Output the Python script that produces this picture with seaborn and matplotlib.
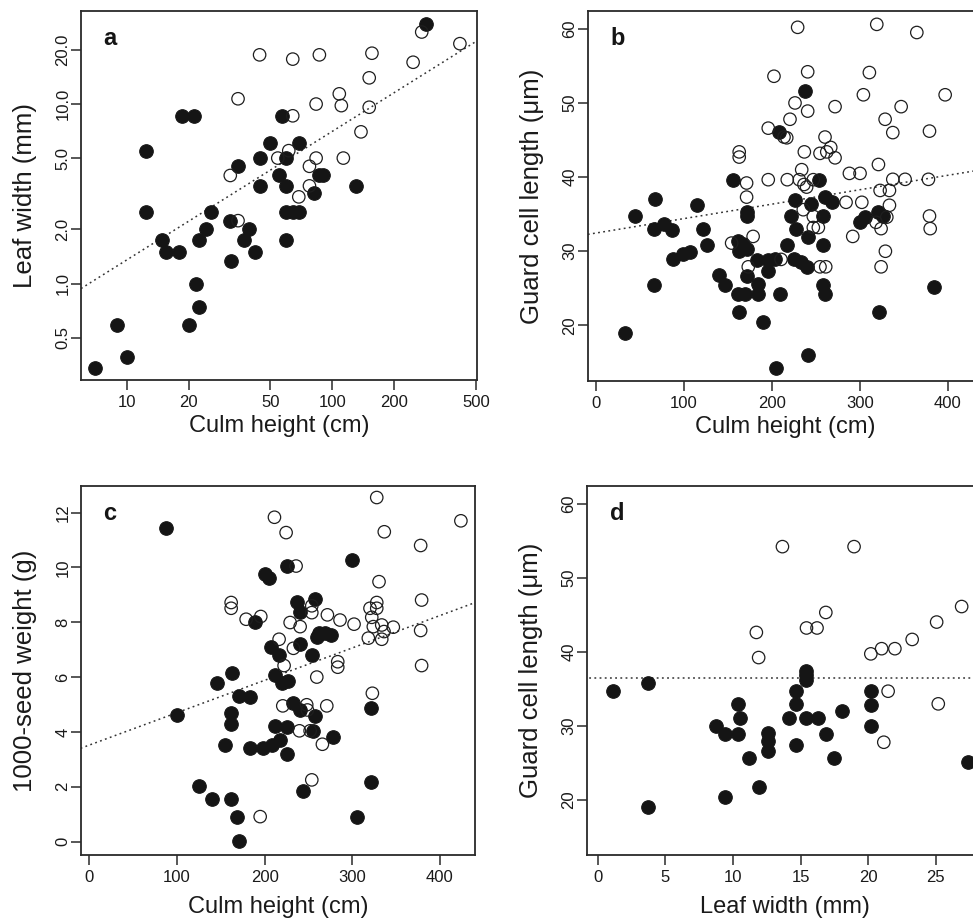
import numpy as np
import pandas as pd
import seaborn as sns
import matplotlib
matplotlib.use("Agg")
import matplotlib.pyplot as plt
from matplotlib.ticker import FixedLocator, FixedFormatter, NullLocator

sns.set_theme(style="ticks")
plt.rcParams["font.family"] = ["Liberation Sans", "DejaVu Sans"]

# ---- panel a: leaf width vs culm height (log-log) ----
a_filled_x = [7.0, 9.0, 10.0, 12.4, 12.4, 14.9, 15.5, 17.9, 18.5, 21.3, 20.0, 21.7, 22.4, 22.4,
              24.2, 25.8, 31.9, 32.0, 34.8, 37.2, 39.3, 41.9, 44.6, 44.6, 49.5, 56.8, 54.9, 59.7,
              59.7, 59.7, 64.2, 69.2, 59.7, 69.2, 81.8, 86.5, 89.7, 130.3, 285]
a_filled_y = [0.34, 0.59, 0.39, 5.5, 2.5, 1.74, 1.49, 1.49, 8.6, 8.6, 0.59, 0.99, 0.74, 1.74,
              2.0, 2.5, 2.24, 1.34, 4.5, 1.74, 2.0, 1.49, 5.0, 3.5, 6.06, 8.6, 4.0, 5.0,
              3.5, 2.5, 2.5, 2.5, 1.74, 6.06, 3.2, 4.0, 4.0, 3.5, 28.0]
a_open_x = [31.9, 34.8, 34.8, 44.3, 54.3, 61.4, 64.2, 64.2, 68.7, 77.4, 77.4, 83.4, 83.4, 86.5,
            108.1, 110.6, 113.1, 137.8, 151.1, 151.1, 155.8, 247, 272, 417]
a_open_y = [4.0, 10.7, 2.24, 18.8, 5.0, 5.5, 17.8, 8.6, 3.04, 4.5, 3.5, 5.0, 10.0, 18.8,
            11.4, 9.8, 5.0, 7.0, 9.6, 14.0, 19.2, 17.1, 25.2, 21.7]

# ---- panel b: guard cell length vs culm height ----
b_filled_x = [33, 44.4, 66, 66, 67.1, 77.4, 86.1, 87.9, 99.3, 106.9, 114.6, 121.4, 126, 140.3,
              146.8, 155.5, 161.9, 167.6, 163, 171.4, 171.4, 171.4, 161.9, 169.5, 163, 171.4,
              182.8, 184, 184, 189.6, 196, 203.6, 196, 204.8, 208.5, 209.3, 217.6, 221.5, 225.3,
              232.9, 239.6, 226.4, 227.5, 237.8, 240.8, 241.5, 244.6, 254, 258.6, 258.6, 257.8,
              260.5, 260.5, 268.1, 300.3, 306, 321.2, 326.9, 322.3, 384.5]
b_filled_y = [19.0, 34.7, 33.05, 25.5, 37.0, 33.7, 32.9, 28.9, 29.6, 29.9, 36.2, 33.05, 30.9, 26.75,
              25.4, 39.65, 31.4, 31.0, 30.0, 30.35, 35.3, 34.8, 24.3, 24.3, 21.8, 26.6,
              28.8, 25.6, 24.3, 20.5, 28.8, 28.9, 27.3, 14.3, 46.1, 24.3, 30.9, 34.7, 28.9,
              28.55, 27.9, 36.95, 33.05, 51.6, 16.0, 31.9, 36.4, 39.6, 34.7, 30.9, 25.5,
              24.3, 37.3, 36.6, 33.9, 34.6, 35.3, 34.8, 21.8, 25.2]
b_open_x = [229.4, 319.3, 364.8, 202.5, 240.8, 310.9, 304.1, 397, 226.4, 240.8, 271.9, 347, 220.7,
            328.8, 337.5, 379.2, 196, 213.9, 217, 260.5, 163, 163, 237, 254.8, 262.5, 267, 271.9,
            321.2, 288.2, 300.3, 196, 217.6, 234, 231.3, 247.2, 236.6, 239.6, 171.4, 171.4,
            337.5, 351.5, 378, 323.1, 333.7, 284.4, 302.3, 333.7, 154.4, 178.8, 173.3, 210.5,
            235.8, 247.2, 247.2, 252.9, 254.8, 261.3, 292, 318.5, 324.2, 330.7, 329.1, 324.2,
            379.2, 380]
b_open_y = [60.2, 60.6, 59.5, 53.6, 54.2, 54.1, 51.1, 51.1, 50.0, 48.9, 49.5, 49.5, 47.8,
            47.8, 46.0, 46.2, 46.6, 45.4, 45.3, 45.4, 43.4, 42.7, 43.4, 43.2, 43.4, 44.0, 42.6,
            41.7, 40.5, 40.5, 39.65, 39.65, 41.0, 39.65, 39.65, 39.0, 38.65, 39.2, 37.3,
            39.7, 39.7, 39.7, 38.2, 38.2, 36.6, 36.6, 36.2, 31.1, 32.0, 27.9, 28.9,
            35.6, 34.7, 33.2, 33.2, 27.9, 27.9, 32.0, 33.9, 33.05, 34.6, 30.0, 27.9,
            34.75, 33.05]

# ---- panel c: 1000-seed weight vs culm height ----
c_filled_x = [87.7, 300.1, 225.3, 200, 205, 236.7, 257.5, 240.5, 189.2, 262.5, 269, 275.4, 259.5,
              207, 216.9, 240.5, 253.8, 162.6, 212, 145.5, 219.6, 227.1, 171.3, 183.5, 99.9,
              321.4, 161.8, 161.8, 232.8, 240.5, 257.5, 212, 225.3, 255.6, 277.7, 155, 183.5,
              197.9, 208.2, 217.7, 225.3, 124.6, 139.8, 161.8, 168.3, 171.3, 244.2, 321.4, 305.1]
c_filled_y = [11.45, 10.27, 10.05, 9.75, 9.62, 8.75, 8.84, 8.39, 8.02, 7.6, 7.62, 7.54, 7.48,
              7.09, 6.81, 7.21, 6.81, 6.16, 6.08, 5.8, 5.78, 5.84, 5.31, 5.29, 4.62,
              4.89, 4.7, 4.29, 5.05, 4.8, 4.58, 4.22, 4.19, 4.04, 3.81, 3.53, 3.41,
              3.41, 3.53, 3.71, 3.2, 2.03, 1.55, 1.55, 0.91, 0.03, 1.86, 2.19, 0.91]
c_open_x = [211.2, 224.5, 327.9, 423.9, 336.5, 378, 235.9, 330.5, 379.1, 161.8, 161.8, 327.9,
            327.9, 320.2, 253.8, 253.8, 271.6, 286, 302, 322.2, 324, 333.6, 346.8, 336.2, 333.6,
            318.3, 378, 379.1, 178.9, 195.6, 229.1, 240.5, 216.5, 232.8, 222.2, 283.4, 283.4,
            259.5, 322.9, 220.7, 248, 248.8, 270.9, 239.7, 251.9, 265.9, 194.9, 253.8]
c_open_y = [11.83, 11.27, 12.55, 11.7, 11.3, 10.8, 10.05, 9.48, 8.81, 8.72, 8.51, 8.72,
            8.51, 8.51, 8.6, 8.35, 8.27, 8.08, 7.93, 8.18, 7.84, 7.9, 7.82, 7.66, 7.38,
            7.42, 7.7, 6.42, 8.11, 8.21, 7.99, 7.84, 7.38, 7.05, 6.42, 6.56, 6.36,
            6.0, 5.41, 4.95, 4.99, 4.8, 4.95, 4.04, 4.04, 3.55, 0.91, 2.25]

# ---- panel d: guard cell length vs leaf width ----
d_filled_x = [1.11, 3.7, 3.7, 8.77, 9.39, 10.37, 10.5, 10.37, 11.19, 9.39, 11.93, 12.59, 12.59,
              12.59, 14.15, 14.64, 14.64, 14.64, 15.44, 15.44, 15.44, 15.44, 16.3, 16.87, 17.46,
              18.07, 20.2, 20.2, 20.2, 27.4]
d_filled_y = [34.65, 35.8, 18.96, 29.9, 28.9, 32.9, 30.96, 28.9, 25.55, 20.3, 21.66, 29.0, 27.9,
              26.6, 30.96, 34.65, 32.94, 27.35, 37.4, 36.8, 36.2, 30.96, 30.96, 28.9, 25.55,
              31.95, 34.65, 32.85, 29.9, 25.1]
d_open_x = [13.66, 18.96, 11.73, 11.9, 15.44, 16.22, 16.87, 20.2, 21.0, 21.98, 23.26, 25.07,
            26.92, 21.48, 25.19, 21.16]
d_open_y = [54.2, 54.2, 42.6, 39.2, 43.2, 43.2, 45.3, 39.7, 40.4, 40.4, 41.65, 44.0,
            46.1, 34.65, 32.94, 27.75]

# fitted lines (intercept, slope)
a_fit = (-0.586, 0.717)   # log10 scale
b_fit = (32.45, 0.01948)
c_fit = (3.52, 0.01181)
d_fit = (36.37, 0.0)

INK = "#151515"
fig = plt.figure(figsize=(9.73, 9.21), dpi=100)

# axes placed in pixels of the 973x921 canvas (right panels run past the edge)
def add_axes(left, top, right, bottom):
    W, H = 973, 921
    return fig.add_axes([left / W, 1 - bottom / H, (right - left) / W, (bottom - top) / H])

ax_a = add_axes(81, 11, 477, 380)
ax_b = add_axes(588, 11, 983, 381)
ax_c = add_axes(81, 486, 475, 855)
ax_d = add_axes(587, 486, 983, 855)


def draw_points(ax, fx, fy, ox, oy):
    filled = pd.DataFrame({"x": fx, "y": fy})
    opened = pd.DataFrame({"x": ox, "y": oy})
    sns.scatterplot(data=filled, x="x", y="y", ax=ax, color=INK, edgecolor=INK,
                    linewidth=0.8, s=95, zorder=3)
    sns.scatterplot(data=opened, x="x", y="y", ax=ax, facecolor="none", edgecolor="#1e1e1e",
                    linewidth=0.9, s=80, zorder=4)


def style(ax, letter, xlabel, ylabel, xticks, yticks, xfmt, yfmt, xlab_y):
    for sp in ax.spines.values():
        sp.set_visible(True)
        sp.set_color("#2a2a2a")
        sp.set_linewidth(1.3)
    ax.xaxis.set_major_locator(FixedLocator(xticks))
    ax.xaxis.set_major_formatter(FixedFormatter([xfmt.format(t) for t in xticks]))
    ax.yaxis.set_major_locator(FixedLocator(yticks))
    ax.yaxis.set_major_formatter(FixedFormatter([yfmt.format(t) for t in yticks]))
    ax.xaxis.set_minor_locator(NullLocator())
    ax.yaxis.set_minor_locator(NullLocator())
    ax.tick_params(direction="out", length=7, width=1.1, color="#2a2a2a",
                   labelsize=12, labelcolor="#1a1a1a")
    ax.tick_params(axis="x", pad=4)
    ax.tick_params(axis="y", labelrotation=90, pad=0.5)
    for lab in ax.get_yticklabels():
        lab.set_va("center")
    ax.set_xlabel(xlabel, fontsize=17, color="#1a1a1a")
    ax.set_ylabel(ylabel, fontsize=18.5, color="#1a1a1a")
    ax.xaxis.set_label_coords(0.5, xlab_y)
    ax.yaxis.set_label_coords(-0.112, 0.5)
    ax.text(0.057, 0.907, letter, transform=ax.transAxes, fontsize=17, fontweight="bold",
            color="#151515", va="baseline", ha="left")
    ax.grid(False)


def fit_line(ax, fit, xlim, log=False):
    xs = np.linspace(xlim[0], xlim[1], 200)
    if log:
        xs = np.logspace(np.log10(xlim[0]), np.log10(xlim[1]), 200)
        ys = 10 ** (fit[0] + fit[1] * np.log10(xs))
    else:
        ys = fit[0] + fit[1] * xs
    ax.plot(xs, ys, color="#333333", linestyle=(0, (1.2, 2.2)), linewidth=1.1, zorder=2)


# panel a
ax_a.set_xscale("log")
ax_a.set_yscale("log")
draw_points(ax_a, a_filled_x, a_filled_y, a_open_x, a_open_y)
fit_line(ax_a, a_fit, (6.0, 505), log=True)
ax_a.set_xlim(6.0, 505)
ax_a.set_ylim(0.29, 33)
style(ax_a, "a", "Culm height (cm)", "Leaf width (mm)",
      [10, 20, 50, 100, 200, 500], [0.5, 1.0, 2.0, 5.0, 10.0, 20.0], "{:g}", "{:.1f}", -0.095)

# panel b
draw_points(ax_b, b_filled_x, b_filled_y, b_open_x, b_open_y)
fit_line(ax_b, b_fit, (-9, 440))
ax_b.set_xlim(-8.8, 440)
ax_b.set_ylim(12.5, 62.4)
style(ax_b, "b", "Culm height (cm)", "Guard cell length (\u03bcm)",
      [0, 100, 200, 300, 400], [20, 30, 40, 50, 60], "{:g}", "{:g}", -0.095)

# panel c
draw_points(ax_c, c_filled_x, c_filled_y, c_open_x, c_open_y)
fit_line(ax_c, c_fit, (-10, 440))
ax_c.set_xlim(-9.5, 440)
ax_c.set_ylim(-0.49, 12.97)
style(ax_c, "c", "Culm height (cm)", "1000-seed weight (g)",
      [0, 100, 200, 300, 400], [0, 2, 4, 6, 8, 10, 12], "{:g}", "{:g}", -0.11)

# panel d
draw_points(ax_d, d_filled_x, d_filled_y, d_open_x, d_open_y)
fit_line(ax_d, d_fit, (-1, 29))
ax_d.set_xlim(-0.8, 28.5)
ax_d.set_ylim(12.5, 62.4)
style(ax_d, "d", "Leaf width (mm)", "Guard cell length (\u03bcm)",
      [0, 5, 10, 15, 20, 25], [20, 30, 40, 50, 60], "{:g}", "{:g}", -0.11)

fig.savefig("out.png", dpi=100, facecolor="white")
